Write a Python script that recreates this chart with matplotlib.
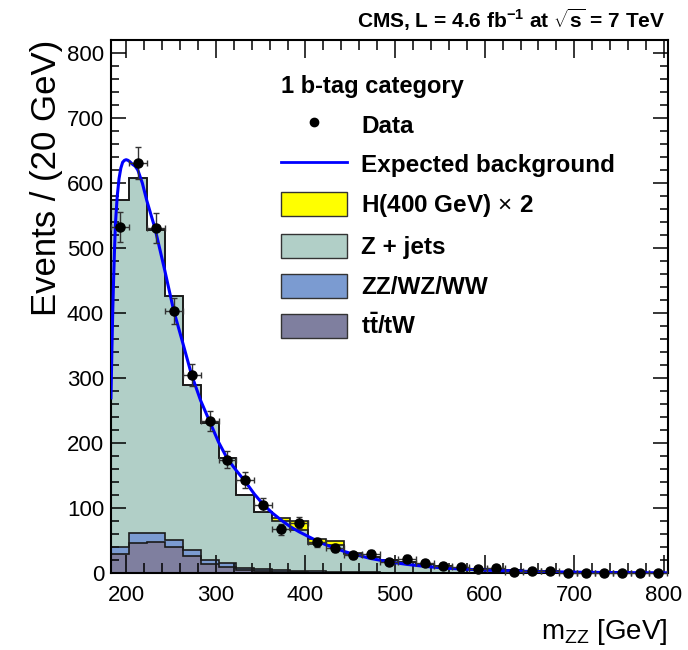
import numpy as np
import matplotlib
matplotlib.use('Agg')
from matplotlib import pyplot as plt
from matplotlib.lines import Line2D
from matplotlib.patches import Patch
from matplotlib.ticker import MultipleLocator

plt.rcParams['font.family'] = ['Liberation Sans', 'DejaVu Sans']
plt.rcParams['mathtext.fontset'] = 'custom'
plt.rcParams['mathtext.rm'] = 'Liberation Sans'
plt.rcParams['mathtext.bf'] = 'Liberation Sans:bold'
plt.rcParams['mathtext.it'] = 'Liberation Sans:italic'

# 20 GeV bins, m_ZZ from 183 to 803 GeV
bin_edges = list(range(183, 804, 20))
bin_centers = [e + 10 for e in bin_edges[:-1]]

data_counts = [532, 631, 531, 404, 305, 234, 175, 144, 106, 68, 78, 48, 39, 28, 30, 18,
               23, 16, 12, 10, 7, 8, 2, 4, 4, 0, 1, 1, 0, 1, 0]

ttbar = [30, 47, 49, 40, 27, 14.5, 10, 6, 4, 3, 2, 1.5, 1, 1, 0.8, 0.6, 0.5, 0.4, 0.3,
         0.3, 0.2, 0.2, 0.1, 0.1, 0.1, 0.1, 0.1, 0.1, 0, 0, 0]
diboson = [10, 14.5, 12.5, 12, 9, 7, 5.5, 3, 3, 2.5, 2, 2, 1.5, 1.2, 1, 0.8, 0.7, 0.6,
           0.5, 0.4, 0.3, 0.3, 0.2, 0.2, 0.2, 0.1, 0.1, 0.1, 0.1, 0.1, 0.1]
zjets = [534, 547, 467, 375, 254, 210, 162, 112, 87, 75, 63, 42, 41, 28, 23, 18.6, 15.8,
         13, 10.2, 8.3, 6.5, 5.5, 4.7, 3.7, 3.2, 2.8, 2.3, 1.8, 1.9, 1.4, 1.4]
higgs_x2 = [0, 0, 0, 0, 0, 0, 0, 0, 1, 5, 13, 7, 6, 1, 0, 0, 0, 0, 0, 0, 0, 0, 0, 0, 0,
            0, 0, 0, 0, 0, 0]

# expected background curve
fit_mass = [183, 184, 185, 186, 187, 188, 190, 192, 194, 196, 198, 200, 202, 204, 207,
            210, 213, 218, 223, 232, 243, 253, 263, 273, 283, 293, 303, 313, 323, 333,
            343, 353, 363, 373, 383, 393, 403, 413, 423, 433, 443, 453, 473, 493, 513,
            533, 553, 573, 603, 653, 703, 753, 803]
fit_vals = [270, 342, 405, 455, 500, 538, 580, 607, 623, 632, 635, 636, 635, 633, 629,
            626, 620, 600, 573, 531, 466, 404, 355, 305, 266, 234, 202, 176, 158, 141,
            122, 106, 93, 82, 72, 64, 57, 50, 44, 39, 34, 30, 23, 18, 14,
            11, 8.5, 7, 5, 3, 2, 1.3, 1]

layer_names = ['tt/tW', 'ZZ/WZ/WW', 'Z + jets', 'H(400 GeV) x 2']
layer_colors = ['#7f7f9f', '#7b9bd1', '#b1cfc7', '#ffff00']

fig = plt.figure(figsize=(6.88, 6.50), dpi=100)
ax = fig.add_axes([0.1613, 0.1177, 0.8096, 0.8208])

edges = np.array(bin_edges)
base = np.zeros(len(bin_centers))
for vals, col in zip([ttbar, diboson, zjets, higgs_x2], layer_colors):
    top = base + np.array(vals)
    ax.stairs(top, edges, baseline=base, fill=True, color=col, lw=0, zorder=1)
    base = top
base = np.zeros(len(bin_centers))
for vals in [ttbar, diboson, zjets, higgs_x2]:
    top = base + np.array(vals)
    ax.stairs(top, edges, baseline=0, color='#1a1a1a', lw=1.2, zorder=2)
    base = top

ax.plot(fit_mass, fit_vals, color='#0000ff', lw=2.2, zorder=3)

counts = np.array(data_counts, dtype=float)
ax.errorbar(bin_centers, counts, xerr=10, yerr=np.sqrt(counts), fmt='o', color='black',
            ecolor='#333333', elinewidth=1.0, capsize=2.5, capthick=1.0, markersize=6.5,
            zorder=5, clip_on=False)

ax.set_xlim(183, 804.5)
ax.set_ylim(0, 820)
ax.xaxis.set_major_locator(MultipleLocator(100))
ax.xaxis.set_minor_locator(MultipleLocator(20))
ax.yaxis.set_major_locator(MultipleLocator(100))
ax.yaxis.set_minor_locator(MultipleLocator(20))
ax.tick_params(which='both', direction='in', top=True, right=True, width=1.1, labelsize=16)
ax.tick_params(axis='x', which='major', length=13, pad=8)
ax.tick_params(axis='x', which='minor', length=7)
ax.tick_params(axis='y', which='major', length=11, pad=5)
ax.tick_params(axis='y', which='minor', length=5.5)
for sp in ax.spines.values():
    sp.set_linewidth(1.5)

ax.set_xlabel(r'm$_{\mathrm{ZZ}}$ [GeV]', loc='right', fontsize=20, labelpad=8)
ax.set_ylabel('Events / (20 GeV)', loc='top', fontsize=25, labelpad=3)

fig.text(665 / 688, 1 - 28 / 650,
         r'CMS, L = 4.6 fb$^{\mathbf{-1}}$ at $\sqrt{\mathbf{s}}$ = 7 TeV',
         ha='right', va='baseline', fontsize=15, fontweight='bold')

handles = [Line2D([], [], marker='o', color='black', ls='none', markersize=6),
           Line2D([], [], color='#0000ff', lw=2.0)]
labels = ['Data', 'Expected background']
for name, col in reversed(list(zip(layer_names, layer_colors))):
    handles.append(Patch(facecolor=col, edgecolor='#333333', lw=1.0))
labels += [r'H(400 GeV)$\,\times\,$2', 'Z + jets', 'ZZ/WZ/WW', r'$\mathbf{t\bar{t}/tW}$']
leg = ax.legend(handles, labels, loc='upper left', bbox_to_anchor=(0.305, 0.935),
                frameon=False, title='1 b-tag category', alignment='left',
                prop={'size': 17.5, 'weight': 'bold'},
                title_fontproperties={'size': 17, 'weight': 'bold'},
                handlelength=2.72, handleheight=1.15, handletextpad=0.58,
                labelspacing=0.6, borderpad=0, borderaxespad=0)

fig.savefig('out.png', dpi=100)
